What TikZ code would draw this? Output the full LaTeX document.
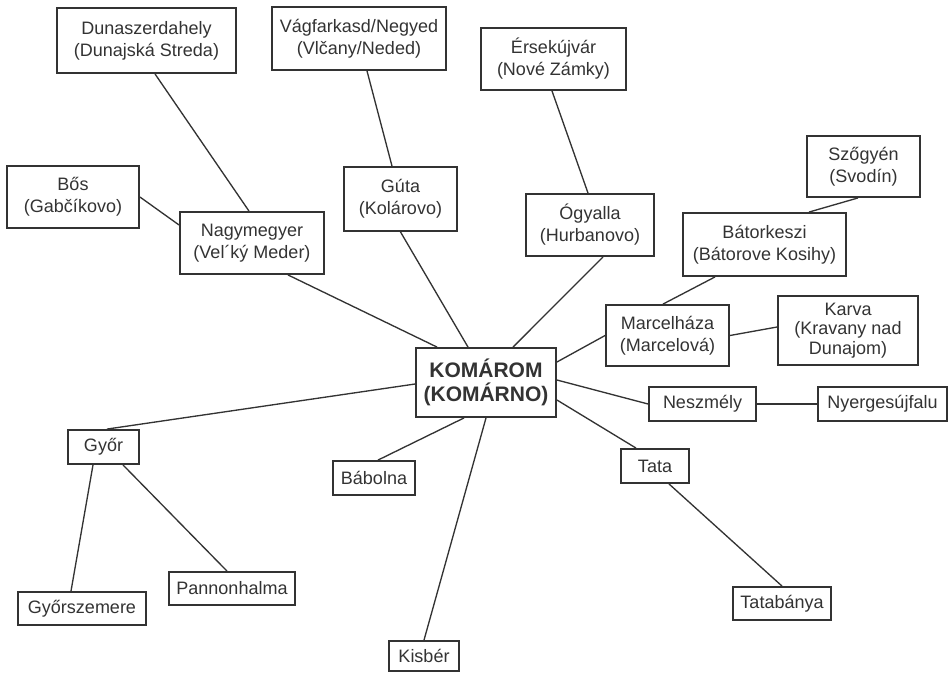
\documentclass[tikz,border=0pt]{standalone}
\usepackage{fontspec}
\setmainfont{Liberation Sans}
\usetikzlibrary{calc}
\definecolor{ink}{HTML}{333333}

\begin{document}
\begin{tikzpicture}[x=0.75pt, y=-0.75pt,
    town/.style={draw=ink, line width=1.4pt, fill=white, text=ink, align=center,
      inner sep=0pt, font=\fontsize{13.5}{16.5}\selectfont},
    boxsize/.style 2 args={minimum width=#1*0.75pt, minimum height=#2*0.75pt},
    link/.style={draw=ink, line width=1pt}]
    \useasboundingbox (0, 0) rectangle (949, 672);

    \node[town, boxsize={140}{69}, font=\fontsize{15.75}{18}\selectfont\bfseries] (0) at (486, 382.5) {KOMÁROM\\(KOMÁRNO)};
    \node[town, boxsize={179}{65}] (1) at (146.5, 40.5) {Dunaszerdahely\\(Dunajská Streda)};
    \node[town, boxsize={174}{63}] (2) at (359, 38.5) {Vágfarkasd/Negyed\\(Vlčany/Neded)};
    \node[town, boxsize={145}{62}] (3) at (553.5, 59) {Érsekújvár\\(Nové Zámky)};
    \node[town, boxsize={132}{62}] (4) at (73, 197) {Bős\\(Gabčíkovo)};
    \node[town, boxsize={144}{62}] (5) at (252, 243) {Nagymegyer\\(Vel´ký Meder)};
    \node[town, boxsize={113}{64}] (6) at (400.5, 199) {Gúta\\(Kolárovo)};
    \node[town, boxsize={128}{62}] (7) at (590, 225) {Ógyalla\\(Hurbanovo)};
    \node[town, boxsize={113}{61}] (8) at (863.5, 166.5) {Szőgyén\\(Svodín)};
    \node[town, boxsize={163}{63}] (9) at (764.5, 244.5) {Bátorkeszi\\(Bátorove Kosihy)};
    \node[town, boxsize={123}{61}] (10) at (667.5, 335.5) {Marcelháza\\(Marcelová)};
    \node[town, boxsize={140}{69}, font=\fontsize{13.5}{14.6}\selectfont] (11) at (848, 330.5) {Karva\\(Kravany nad\\Dunajom)};
    \node[town, boxsize={107}{34}] (12) at (702.5, 404) {Neszmély};
    \node[town, boxsize={129}{34}] (13) at (882.5, 404) {Nyergesújfalu};
    \node[town, boxsize={71}{34}] (14) at (103.5, 447) {Győr};
    \node[town, boxsize={82}{34}] (15) at (374, 478) {Bábolna};
    \node[town, boxsize={68}{34}] (16) at (655, 466) {Tata};
    \node[town, boxsize={126}{33}] (17) at (232, 588.5) {Pannonhalma};
    \node[town, boxsize={128}{33}] (18) at (82, 608.5) {Győrszemere};
    \node[town, boxsize={98}{33}] (19) at (782, 603.5) {Tatabánya};
    \node[town, boxsize={70}{30}] (20) at (424, 656) {Kisbér};

    % around Komárom
    \draw[link] ($(0.north)+(-49,0)$) -- ($(5.south)+(36,0)$);
    \draw[link] ($(0.north)+(-18,0)$) -- (6.south);
    \draw[link] ($(0.north)+(27,0)$) -- ($(7.south)+(13,0)$);
    \draw[link] ($(0.east)+(0,-20.5)$) -- (10.west);
    \draw[link] ($(0.east)+(0,-2.5)$) -- (12.west);
    \draw[link] ($(0.east)+(0,17.5)$) -- ($(16.north)+(-19,0)$);
    \draw[link] (0.south) -- (20.north);
    \draw[link] ($(0.south)+(-22,0)$) -- ($(15.north)+(4,0)$);
    \draw[link] ($(0.west)+(0,1.5)$) -- ($(14.north)+(3.5,0)$);

    \draw[link] ($(5.north)+(-3,0)$) -- ($(1.south)+(8.5,0)$);
    \draw[link] ($(5.west)+(0,-18)$) -- (4.east);
    \draw[link] ($(6.north)+(-8.5,0)$) -- ($(2.south)+(8,0)$);
    \draw[link] ($(7.north)+(-2,0)$) -- ($(3.south)+(-1.5,0)$);
    \draw[link] ($(10.north)+(-4.5,0)$) -- ($(9.south)+(-49.5,0)$);
    \draw[link] ($(9.north)+(44.5,0)$) -- ($(8.south)+(-5.5,0)$);
    \draw[link] (10.east) -- ($(11.west)+(0,-3.5)$);
    \draw[link] (12.east) -- (13.west);
    \draw[link] ($(16.south)+(14,0)$) -- (19.north);
    \draw[link] ($(14.south)+(-10.5,0)$) -- ($(18.north)+(-11,0)$);
    \draw[link] ($(14.south)+(19.5,0)$) -- ($(17.north)+(-5,0)$);
  \end{tikzpicture}
\end{document}
